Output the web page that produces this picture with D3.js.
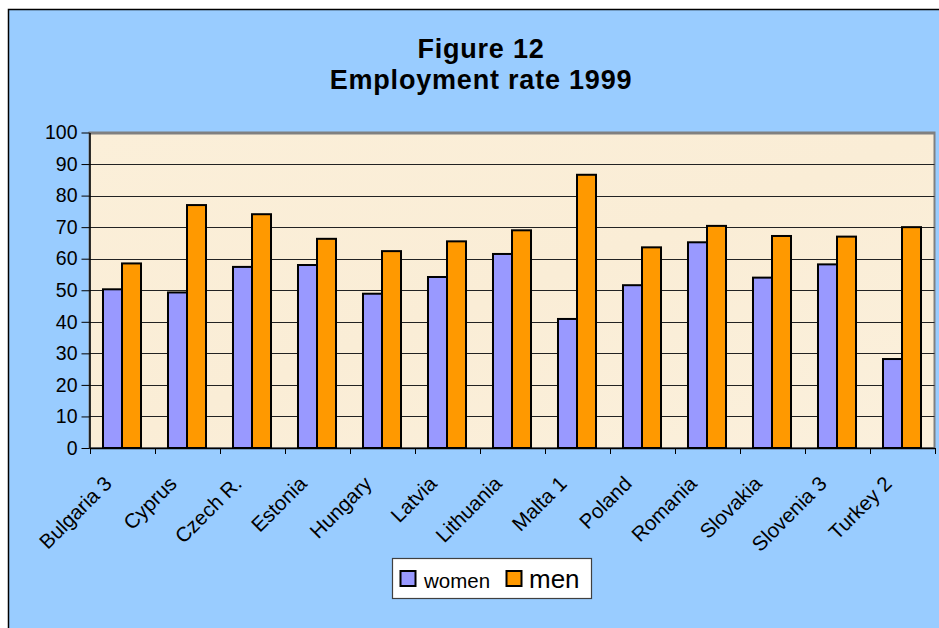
<!DOCTYPE html>
<html>
<head>
<meta charset="utf-8">
<script src="https://cdn.jsdelivr.net/npm/d3@7"></script>
<style>
  html, body { margin: 0; padding: 0; background: #ffffff; }
  svg { display: block; }
  text { font-family: "Liberation Sans", Arial, sans-serif; fill: #000; }
</style>
</head>
<body>
<svg id="chart" width="939" height="628"></svg>
<script>
const categories = ["Bulgaria 3", "Cyprus", "Czech R.", "Estonia", "Hungary", "Latvia", "Lithuania", "Malta 1", "Poland", "Romania", "Slovakia", "Slovenia 3", "Turkey 2"];
const women = [50.3, 49.3, 57.4, 58.0, 48.9, 54.2, 61.5, 40.9, 51.6, 65.2, 54.0, 58.2, 28.2];
const men   = [58.5, 77.0, 74.1, 66.3, 62.4, 65.5, 69.0, 86.6, 63.6, 70.4, 67.2, 67.0, 70.0];
const yTicks = [0, 10, 20, 30, 40, 50, 60, 70, 80, 90, 100];
const seriesNames = ["women", "men"];
const titleLines = ["Figure 12", "Employment rate 1999"];

const svg = d3.select("#chart");
const W = 939, H = 628;

svg.append("rect").attr("x", 8.5).attr("y", 9.5).attr("width", W).attr("height", H)
  .attr("fill", "#99CCFF").attr("stroke", "#000").attr("stroke-width", 1.5);

const plot = { left: 89.5, top: 132.5, right: 934.5, bottom: 448 };

const defs = svg.append("defs");
const grad = defs.append("linearGradient").attr("id", "parch").attr("x1", 0).attr("y1", 0).attr("x2", 1).attr("y2", 1);
grad.append("stop").attr("offset", "0%").attr("stop-color", "#FBEFD9");
grad.append("stop").attr("offset", "50%").attr("stop-color", "#FAEDD6");
grad.append("stop").attr("offset", "100%").attr("stop-color", "#FBF0DC");

svg.append("rect").attr("x", plot.left).attr("y", plot.top)
  .attr("width", plot.right - plot.left).attr("height", plot.bottom - plot.top)
  .attr("fill", "url(#parch)").attr("stroke", "#808080").attr("stroke-width", 2);

const x = d3.scaleBand().domain(categories).range([plot.left, plot.right]).paddingInner(0).paddingOuter(0);
const y = d3.scaleLinear().domain([0, 100]).range([plot.bottom, plot.top]);
const xs = d3.scaleBand().domain(seriesNames).range([0, x.bandwidth()]).paddingInner(0).paddingOuter(0.71);

svg.append("g").selectAll("line").data(yTicks.filter(d => d > 0)).join("line")
  .attr("x1", plot.left).attr("x2", plot.right)
  .attr("y1", d => Math.round(y(d)) + 0.5).attr("y2", d => Math.round(y(d)) + 0.5)
  .attr("stroke", d => d === 100 ? "#808080" : "#222").attr("stroke-width", d => d === 100 ? 2 : 1);

const yAxis = d3.axisLeft(y).tickValues(yTicks).tickSize(8).tickPadding(4).tickSizeOuter(0);
const gy = svg.append("g").attr("transform", `translate(${plot.left},0)`).call(yAxis);
gy.select(".domain").attr("stroke", "#000").attr("stroke-width", 1.5);
gy.selectAll(".tick line").attr("stroke", "#000");
gy.selectAll(".tick text").style("font-size", "19.5px").style("font-family", '"Liberation Sans", Arial, sans-serif').attr("fill", "#000");

const colors = { women: "#9999FF", men: "#FF9900" };
const data = categories.map((c, i) => ({ c, women: women[i], men: men[i] }));
const groups = svg.append("g").selectAll("g").data(data).join("g")
  .attr("transform", d => `translate(${x(d.c)},0)`);
groups.selectAll("rect").data(d => seriesNames.map(s => ({ s, v: d[s] }))).join("rect")
  .attr("x", d => xs(d.s)).attr("width", xs.bandwidth())
  .attr("y", d => y(d.v)).attr("height", d => y(0) - y(d.v))
  .attr("fill", d => colors[d.s]).attr("stroke", "#000").attr("stroke-width", 2);

const xAxis = d3.axisBottom(x).tickSize(0).tickFormat("");
const gx = svg.append("g").attr("transform", `translate(0,${plot.bottom})`).call(xAxis);
gx.select(".domain").attr("stroke", "#000").attr("stroke-width", 1.5);
svg.append("g").selectAll("line").data(categories.concat(["__end"])).join("line")
  .attr("x1", (d, i) => Math.round(plot.left + i * x.bandwidth()) + 0.5)
  .attr("x2", (d, i) => Math.round(plot.left + i * x.bandwidth()) + 0.5)
  .attr("y1", plot.bottom).attr("y2", plot.bottom + 6)
  .attr("stroke", "#000").attr("stroke-width", 1);

svg.append("g").selectAll("text").data(categories).join("text")
  .attr("transform", d => `translate(${x(d) + x.bandwidth() / 2 - 9},${plot.bottom + 37}) rotate(-45)`)
  .attr("text-anchor", "end")
  .style("font-size", "20.5px")
  .text(d => d);

svg.append("g").selectAll("text").data(titleLines).join("text")
  .attr("x", 481).attr("y", (d, i) => 58 + i * 31)
  .attr("text-anchor", "middle")
  .style("font-size", "27px").style("font-weight", "bold").style("letter-spacing", "0.8px")
  .text(d => d);

const lg = svg.append("g");
lg.append("rect").attr("x", 392.5).attr("y", 558.5).attr("width", 199).attr("height", 40)
  .attr("fill", "#ffffff").attr("stroke", "#404040").attr("stroke-width", 1.2);
const legendItems = [
  { s: "women", sx: 400.5, tx: 424, fs: 20.5 },
  { s: "men", sx: 506.5, tx: 529, fs: 26 }
];
legendItems.forEach(it => {
  lg.append("rect").attr("x", it.sx).attr("y", 571).attr("width", 15).attr("height", 15)
    .attr("fill", colors[it.s]).attr("stroke", "#000").attr("stroke-width", 2);
  lg.append("text").attr("x", it.tx).attr("y", 587.5).style("font-size", it.fs + "px").text(it.s);
});
</script>
</body>
</html>
